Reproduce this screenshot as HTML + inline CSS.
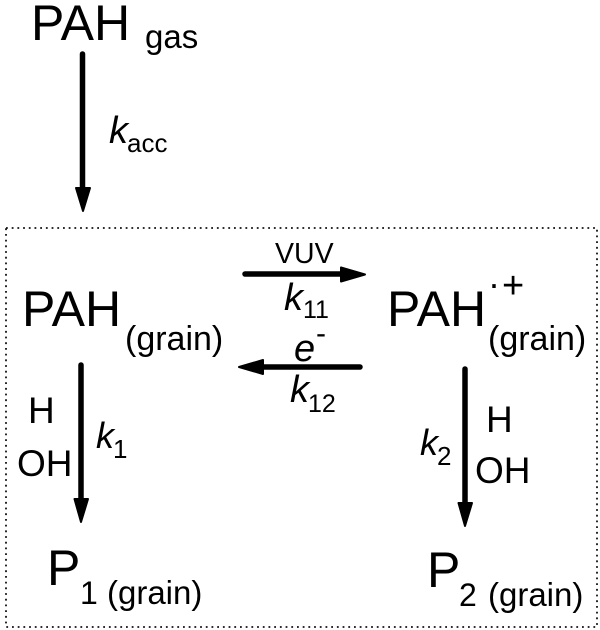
<!DOCTYPE html>
<html><head><meta charset="utf-8"><style>
html,body{margin:0;padding:0;background:#fff}
svg{display:block}
text{font-family:"Liberation Sans",Arial,sans-serif;fill:#000}
.i{font-style:italic}
</style></head><body>
<svg width="600" height="630" viewBox="0 0 600 630" xmlns="http://www.w3.org/2000/svg">
<rect x="6" y="228" width="591" height="399" fill="none" stroke="#111" stroke-width="1.8" stroke-dasharray="1.8 3.9"/>
<g stroke="#000" stroke-width="5.5" stroke-linecap="round" fill="none">
<path d="M82.500 54V190"/><path d="M245 274H345"/><path d="M360 367H258"/><path d="M81 365V500"/><path d="M465 369V505"/>
</g>
<g fill="#000" stroke="#000" stroke-width="2" stroke-linejoin="round">
<path d="M76 188H90L83 211Z"/>
<path d="M341 267.500V281.500L365 274.500Z"/>
<path d="M263 360V374L239 367Z"/>
<path d="M74.500 499H88L81 522Z"/>
<path d="M458.500 503H472L465 526Z"/>
</g>
<text x="31" y="40" font-size="50">PAH</text>
<text x="145" y="48" font-size="33">gas</text>
<text class="i" x="109" y="143" font-size="38">k</text>
<text x="127" y="152" font-size="26">acc</text>
<text x="275" y="263" font-size="28.500">VUV</text>
<text class="i" x="284" y="310" font-size="38">k</text>
<text x="303" y="318" font-size="25">11</text>
<text class="i" x="294" y="361" font-size="38">e</text>
<text x="316" y="343" font-size="30">-</text>
<text class="i" x="290" y="402" font-size="38">k</text>
<text x="308" y="412" font-size="25">12</text>
<text x="22" y="326" font-size="50">PAH</text>
<text x="125" y="350" font-size="34">(grain)</text>
<text x="387" y="326" font-size="50">PAH</text>
<text x="488" y="296" font-size="36">·</text>
<text x="502" y="298" font-size="38">+</text>
<text x="488" y="350" font-size="34">(grain)</text>
<text x="28" y="423" font-size="37">H</text>
<text x="17" y="476" font-size="37">OH</text>
<text class="i" x="96" y="448" font-size="36">k</text>
<text x="113" y="458" font-size="26">1</text>
<text x="486" y="432" font-size="37">H</text>
<text x="475" y="483" font-size="37">OH</text>
<text class="i" x="420" y="455" font-size="36">k</text>
<text x="437" y="465" font-size="26">2</text>
<text x="47" y="585" font-size="50">P</text>
<text x="80" y="604" font-size="32">1</text>
<text x="107" y="604" font-size="33">(grain)</text>
<text x="427" y="587" font-size="50">P</text>
<text x="459" y="606" font-size="32">2</text>
<text x="488" y="606" font-size="33">(grain)</text>
</svg>
</body></html>
